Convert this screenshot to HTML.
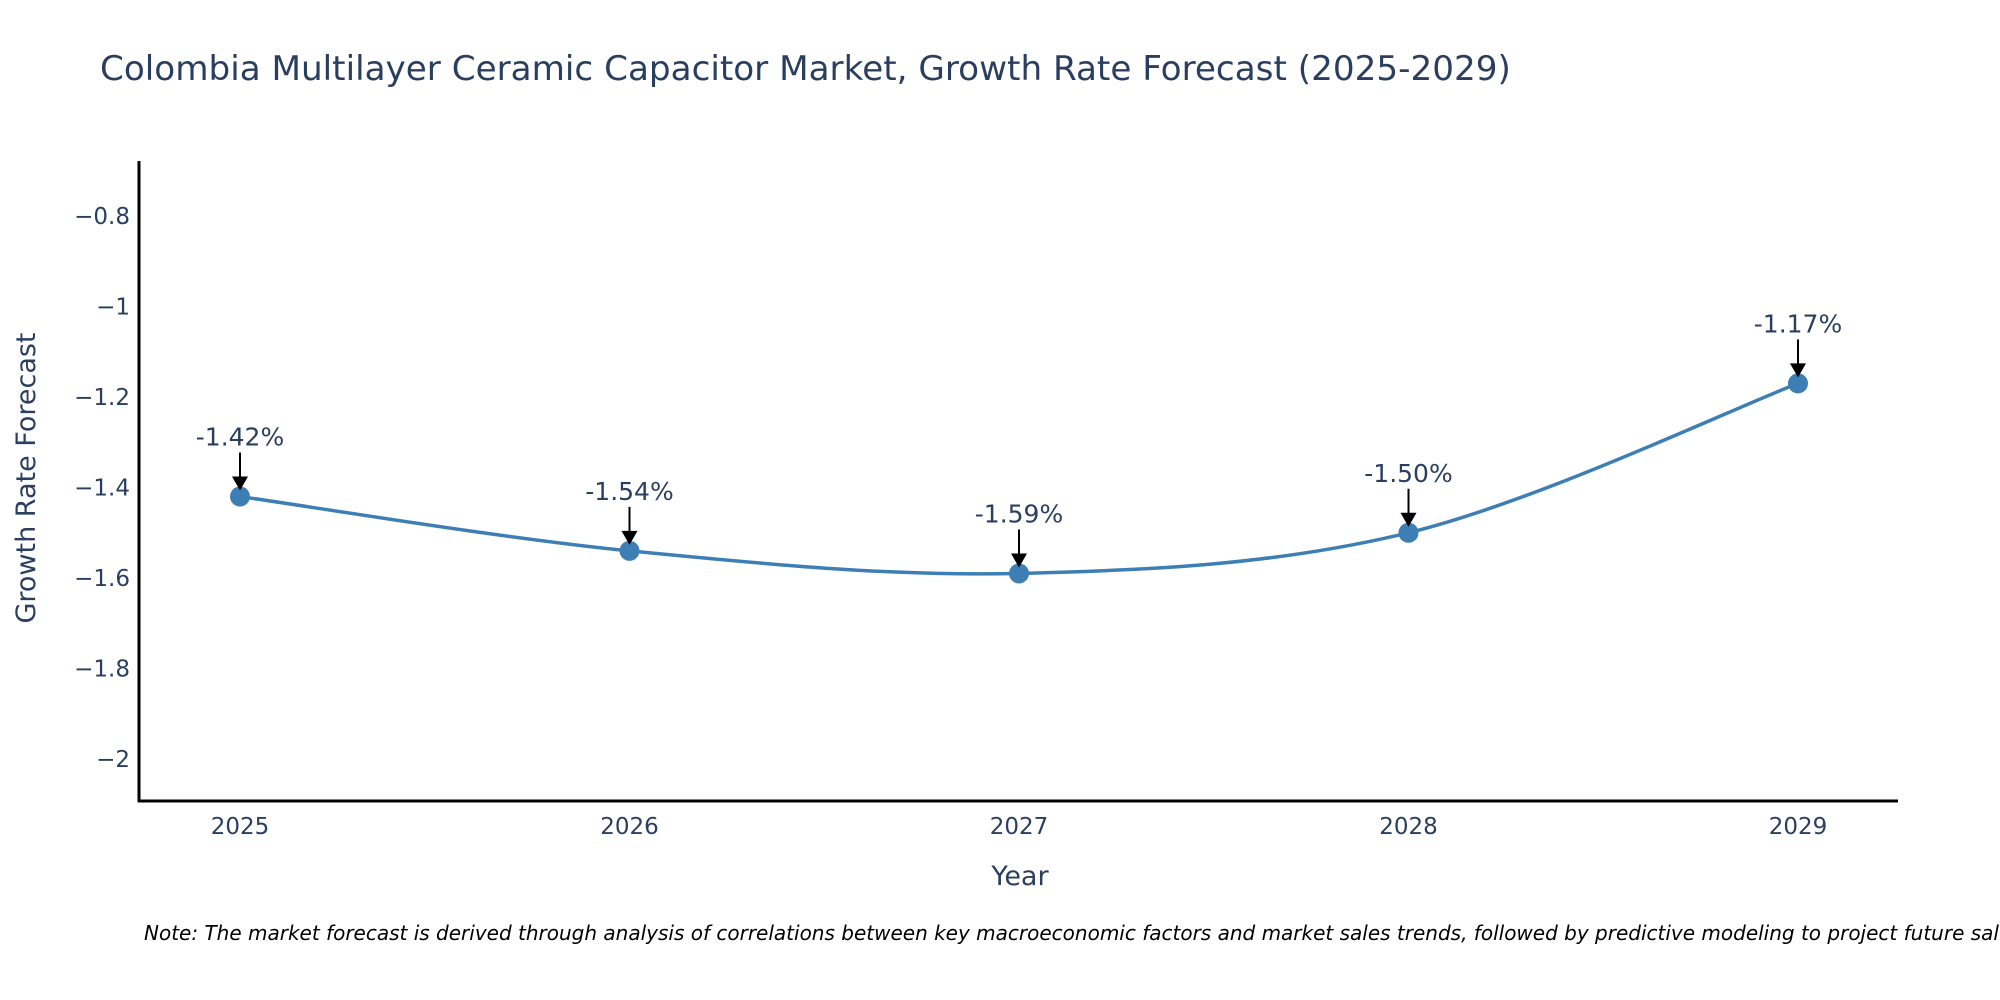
<!DOCTYPE html>
<html><head><meta charset="utf-8"><style>
html,body{margin:0;padding:0;background:#fff;width:2000px;height:1000px;overflow:hidden}
svg text{font-family:"DejaVu Sans","Liberation Sans",sans-serif}
</style></head><body>
<svg id="chart" width="2000" height="1000" xmlns="http://www.w3.org/2000/svg">
<text x="100" y="80" font-size="34.2" fill="#2a3f5f">Colombia Multilayer Ceramic Capacitor Market, Growth Rate Forecast (2025-2029)</text>
<g id="yticks"></g>
<g id="xticks"></g>
<line x1="139" y1="161" x2="139" y2="802" stroke="#000" stroke-width="3"/>
<line x1="138" y1="801" x2="1898" y2="801" stroke="#000" stroke-width="3"/>
<path id="line" fill="none" stroke="#3d7fb4" stroke-width="3.5"/>
<g id="marks"></g>
<text x="1020" y="885" font-size="27" fill="#2a3f5f" text-anchor="middle">Year</text>
<text transform="translate(35,478) rotate(-90)" font-size="27" fill="#2a3f5f" text-anchor="middle">Growth Rate Forecast</text>
<text x="144" y="940" font-size="20" font-style="italic" fill="#000">Note: The market forecast is derived through analysis of correlations between key macroeconomic factors and market sales trends, followed by predictive modeling to project future sales.</text>
</svg>
<script>
const years = [2025, 2026, 2027, 2028, 2029];
const values = [-1.42, -1.54, -1.59, -1.50, -1.17];
const labels = ["-1.42%", "-1.54%", "-1.59%", "-1.50%", "-1.17%"];
const yTickValues = [-0.8, -1, -1.2, -1.4, -1.6, -1.8, -2];
const yTickLabels = ["\u22120.8", "\u22121", "\u22121.2", "\u22121.4", "\u22121.6", "\u22121.8", "\u22122"];

const NS = "http://www.w3.org/2000/svg";
function xs(yr){ return 240 + (yr - 2025) * 389.5; }
function ys(v){ return 216 + (-0.8 - v) / 0.2 * 90.5; }
function mk(tag, attrs, parent){ const e = document.createElementNS(NS, tag); for (const k in attrs) e.setAttribute(k, attrs[k]); parent.appendChild(e); return e; }

const yt = document.getElementById('yticks');
yTickValues.forEach((v, i) => {
  const t = mk('text', {x: 130, y: ys(v) + 8, 'font-size': 23, fill: '#2a3f5f', 'text-anchor': 'end'}, yt);
  
  
  t.textContent = yTickLabels[i];
});
const xt = document.getElementById('xticks');
years.forEach(yr => {
  const t = mk('text', {x: xs(yr), y: 834, 'font-size': 23, fill: '#2a3f5f', 'text-anchor': 'middle'}, xt);
  
  
  t.textContent = yr;
});

const pts = years.map((yr, i) => [xs(yr), ys(values[i])]);
let d = `M${pts[0][0]},${pts[0][1]}`;
for (let i = 0; i < pts.length - 1; i++) {
  const p0 = pts[Math.max(0, i - 1)], p1 = pts[i], p2 = pts[i + 1], p3 = pts[Math.min(pts.length - 1, i + 2)];
  const c1 = [p1[0] + (p2[0] - p0[0]) / 6, p1[1] + (p2[1] - p0[1]) / 6];
  const c2 = [p2[0] - (p3[0] - p1[0]) / 6, p2[1] - (p3[1] - p1[1]) / 6];
  d += ` C${c1[0]},${c1[1]} ${c2[0]},${c2[1]} ${p2[0]},${p2[1]}`;
}
document.getElementById('line').setAttribute('d', d);

const mg = document.getElementById('marks');
pts.forEach((p, i) => {
  const c = mk('circle', {cx: p[0], cy: p[1], r: 10, fill: '#3d7fb4'}, mg);
  
  
  const ln = mk('line', {x1: p[0], y1: p[1] - 44, x2: p[0], y2: p[1] - 18, stroke: '#000', 'stroke-width': 2}, mg);
  
  
  const ah = mk('polygon', {points: `${p[0]-8},${p[1]-20} ${p[0]+8},${p[1]-20} ${p[0]},${p[1]-6}`, fill: '#000'}, mg);
  
  
  const t = mk('text', {x: p[0], y: p[1] - 51, 'font-size': 25, fill: '#2a3f5f', 'text-anchor': 'middle'}, mg);
  
  
  t.textContent = labels[i];
});
</script>
</body></html>
